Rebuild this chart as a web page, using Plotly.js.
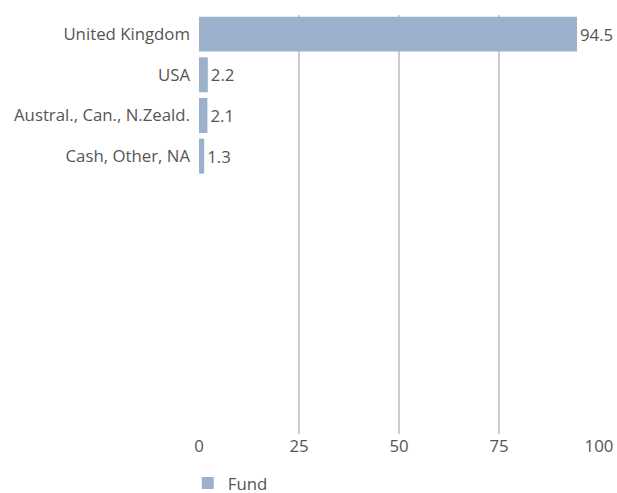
<!DOCTYPE html>
<html>
<head>
<meta charset="utf-8">
<script src="https://cdn.plot.ly/plotly-3.0.1.min.js"></script>
<style>html,body{margin:0;padding:0;background:#fff;}#chart{width:617px;height:493px;}</style>
</head>
<body>
<div id="chart"></div>
<script>
const categories = ["United Kingdom", "USA", "Austral., Can., N.Zeald.", "Cash, Other, NA"];
const fundValues = [94.5, 2.2, 2.1, 1.3];
const seriesName = "Fund";
const xTicks = [0, 25, 50, 75, 100];

const FONT = "'Open Sans', sans-serif";
const FS = 16.8;

const trace = {
  type: "bar",
  orientation: "h",
  name: seriesName,
  y: categories,
  x: fundValues,
  width: 0.86,
  marker: {color: "#9bb1cc"},
  text: fundValues.map(v => v.toFixed(1)),
  textposition: "outside",
  cliponaxis: false,
  textfont: {color: "#555555", size: FS, family: FONT},
  hoverinfo: "none"
};

const layout = {
  width: 617,
  height: 493,
  margin: {l: 199, r: 18, t: 15, b: 59, autoexpand: false},
  paper_bgcolor: "#ffffff",
  plot_bgcolor: "#ffffff",
  font: {family: FONT, color: "#555555", size: FS},
  showlegend: true,
  legend: {orientation: "h", x: -0.028, y: -0.117, xanchor: "left", yanchor: "middle",
           font: {size: FS, color: "#555555", family: FONT}, itemwidth: 30},
  xaxis: {
    range: [0, 100],
    tickvals: xTicks,
    ticktext: xTicks.map(String),
    showgrid: true,
    gridcolor: "#cccccc",
    gridwidth: 1.5,
    zeroline: false,
    showline: false,
    ticks: "",
    tickfont: {size: FS, color: "#555555", family: FONT},
    fixedrange: true
  },
  yaxis: {
    type: "category",
    categoryorder: "array",
    categoryarray: categories,
    range: [9.83, -0.47],
    showgrid: false,
    zeroline: false,
    showline: false,
    ticks: "",
    ticklabelstandoff: 8,
    tickfont: {size: FS, color: "#555555", family: FONT},
    fixedrange: true
  }
};

Plotly.newPlot("chart", [trace], layout, {displayModeBar: false, staticPlot: true});
</script>
</body>
</html>
